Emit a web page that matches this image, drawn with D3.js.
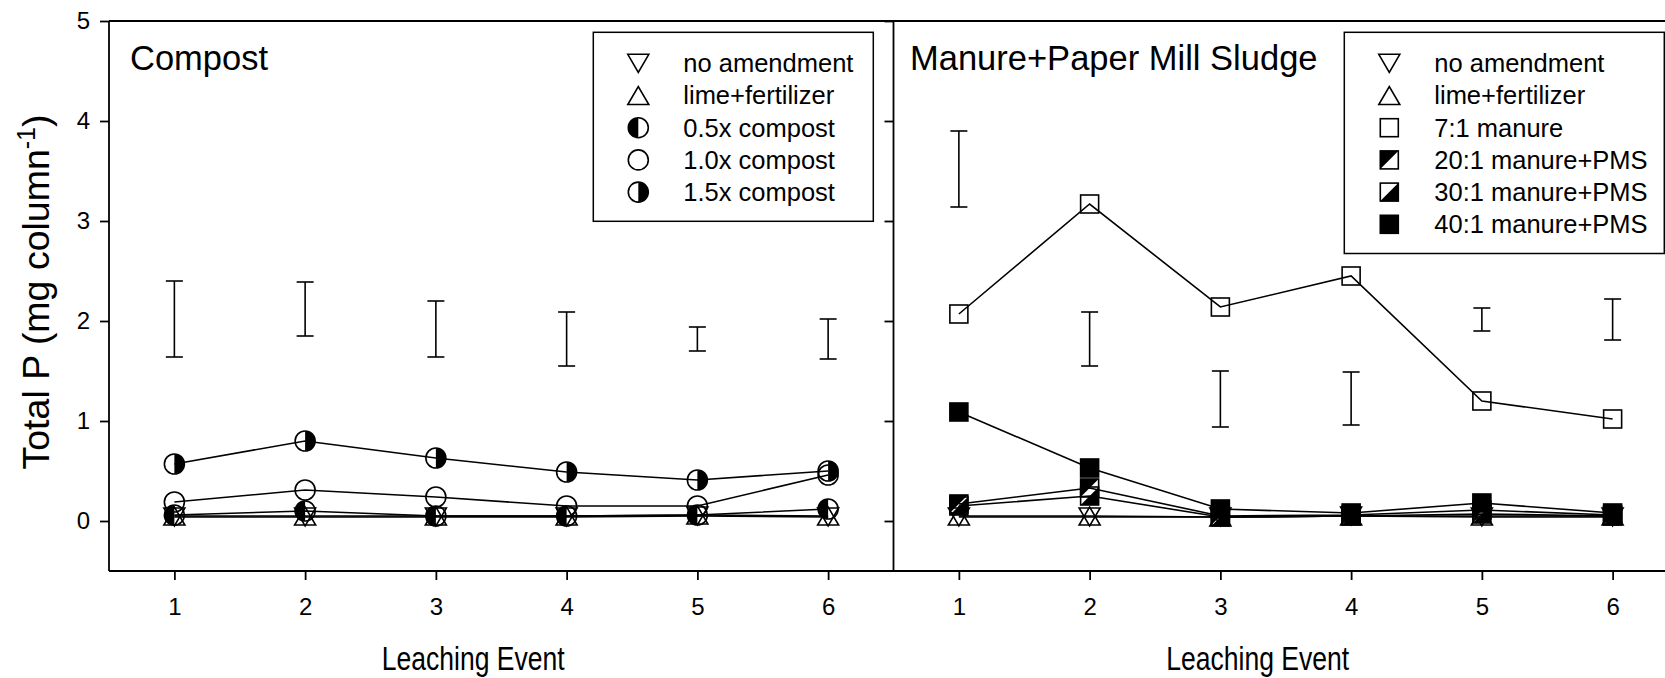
<!DOCTYPE html>
<html><head><meta charset="utf-8">
<script src="https://cdn.jsdelivr.net/npm/d3@7"></script>
<style>
body{margin:0;background:#fff}
text{font-family:"Liberation Sans",Arial,Helvetica,sans-serif;fill:#000}
</style>
</head><body><svg id="c" width="1665" height="678"></svg>
<script>
// ---------- data ----------
const events = [1, 2, 3, 4, 5, 6];
const yTicks = [0, 1, 2, 3, 4, 5];

// Compost panel
const compostTitle = "Compost";
const cNoAmend   = [0.04, 0.04, 0.04, 0.04, 0.05, 0.04];
const cLimeFert  = [0.05, 0.05, 0.05, 0.05, 0.06, 0.05];
const cHalf      = [0.06, 0.10, 0.05, 0.05, 0.06, 0.12];
const cOne       = [0.19, 0.31, 0.24, 0.15, 0.15, 0.46];
const cOneHalf   = [0.57, 0.80, 0.63, 0.49, 0.41, 0.50];
const cBarHigh   = [2.40, 2.39, 2.20, 2.09, 1.94, 2.02];
const cBarLow    = [1.64, 1.85, 1.64, 1.55, 1.70, 1.62];

// Manure + PMS panel
const manureTitle = "Manure+Paper Mill Sludge";
const mNoAmend   = [0.04, 0.04, 0.04, 0.05, 0.04, 0.04];
const mLimeFert  = [0.05, 0.05, 0.04, 0.05, 0.05, 0.05];
const m7to1      = [2.07, 3.17, 2.14, 2.45, 1.20, 1.02];
const m20to1     = [0.17, 0.33, 0.05, 0.06, 0.11, 0.06];
const m30to1     = [0.15, 0.25, 0.04, 0.05, 0.07, 0.05];
const m40to1     = [1.09, 0.53, 0.12, 0.08, 0.18, 0.08];
const mBarHigh   = [3.90, 2.09, 1.50, 1.49, 2.13, 2.22];
const mBarLow    = [3.14, 1.55, 0.94, 0.96, 1.90, 1.81];

const compostSeries = [
  {name: "no amendment",    shape: "down",  values: cNoAmend},
  {name: "lime+fertilizer", shape: "up",    values: cLimeFert},
  {name: "0.5x compost",    shape: "halfL", values: cHalf},
  {name: "1.0x compost",    shape: "circle",values: cOne},
  {name: "1.5x compost",    shape: "halfR", values: cOneHalf}
];
const manureSeries = [
  {name: "no amendment",     shape: "down",   values: mNoAmend},
  {name: "lime+fertilizer",  shape: "up",     values: mLimeFert},
  {name: "7:1 manure",       shape: "square", values: m7to1},
  {name: "20:1 manure+PMS",  shape: "sqTL",   values: m20to1},
  {name: "30:1 manure+PMS",  shape: "sqBR",   values: m30to1},
  {name: "40:1 manure+PMS",  shape: "sqFill", values: m40to1}
];

const xLabel = "Leaching Event";

// ---------- layout ----------
const svg = d3.select("#c");
const yTop = 21, yBot = 571;
const y  = d3.scaleLinear().domain([-0.5, 5]).range([yBot, yTop]);
const xL = d3.scaleLinear().domain([0.5, 6.5]).range([109, 893.5]);
const xR = d3.scaleLinear().domain([0.5, 6.5]).range([893.5, 1678]);
const SW = 1.6;

// ---------- markers (open parts are unfilled) ----------
function marker(g, shape, cx, cy) {
  const r = 10, s = 9, tw = 10.5, th = 9;
  const st = {stroke: "#000", "stroke-width": SW};
  const apply = (sel, o) => { for (const k in o) sel.attr(k, o[k]); return sel; };
  if (shape === "circle" || shape === "halfL" || shape === "halfR") {
    if (shape !== "circle") {
      const sweep = shape === "halfL" ? 0 : 1;
      g.append("path")
        .attr("d", `M${cx},${cy - r} A${r},${r} 0 0 ${sweep} ${cx},${cy + r} Z`)
        .attr("fill", "#000");
    }
    apply(g.append("circle").attr("cx", cx).attr("cy", cy).attr("r", r).attr("fill", "none"), st);
  } else if (shape === "down") {
    apply(g.append("path").attr("d", `M${cx - tw},${cy - th} L${cx + tw},${cy - th} L${cx},${cy + th} Z`).attr("fill", "none"), st);
  } else if (shape === "up") {
    apply(g.append("path").attr("d", `M${cx - tw},${cy + th} L${cx + tw},${cy + th} L${cx},${cy - th} Z`).attr("fill", "none"), st);
  } else {
    if (shape === "sqTL") {
      g.append("path").attr("d", `M${cx - s},${cy - s} L${cx + s},${cy - s} L${cx - s},${cy + s} Z`).attr("fill", "#000");
    } else if (shape === "sqBR") {
      g.append("path").attr("d", `M${cx + s},${cy - s} L${cx + s},${cy + s} L${cx - s},${cy + s} Z`).attr("fill", "#000");
    }
    apply(g.append("rect").attr("x", cx - s).attr("y", cy - s).attr("width", 2 * s).attr("height", 2 * s)
      .attr("fill", shape === "sqFill" ? "#000" : "none"), st);
  }
}

// ---------- panel drawing ----------
function panel(x, series, barHigh, barLow) {
  const g = svg.append("g");
  events.forEach((e, i) => {
    const px = x(e);
    g.append("line").attr("x1", px).attr("x2", px).attr("y1", y(barHigh[i])).attr("y2", y(barLow[i]))
      .attr("stroke", "#000").attr("stroke-width", SW);
    [barHigh[i], barLow[i]].forEach(v => {
      g.append("line").attr("x1", px - 8.5).attr("x2", px + 8.5).attr("y1", y(v)).attr("y2", y(v))
        .attr("stroke", "#000").attr("stroke-width", SW);
    });
  });
  const line = d3.line().x((d, i) => x(events[i])).y(d => y(d));
  series.forEach(s => {
    g.append("path").attr("d", line(s.values)).attr("fill", "none").attr("stroke", "#000").attr("stroke-width", SW);
  });
  series.forEach(s => {
    s.values.forEach((v, i) => marker(g, s.shape, x(events[i]), y(v)));
  });
}

panel(xL, compostSeries, cBarHigh, cBarLow);
panel(xR, manureSeries, mBarHigh, mBarLow);

// ---------- frame ----------
const frame = svg.append("g").attr("stroke", "#000").attr("stroke-width", 1.8);
frame.append("line").attr("x1", xL.range()[0]).attr("x2", 1665).attr("y1", yTop).attr("y2", yTop);
frame.append("line").attr("x1", xL.range()[0]).attr("x2", 1665).attr("y1", yBot).attr("y2", yBot);
frame.append("line").attr("x1", xL.range()[0]).attr("x2", xL.range()[0]).attr("y1", yTop).attr("y2", yBot);
frame.append("line").attr("x1", xR.range()[0]).attr("x2", xR.range()[0]).attr("y1", yTop).attr("y2", yBot);

// ---------- axes ----------
function styleAxis(g, fs) {
  g.select(".domain").remove();
  g.selectAll(".tick line").attr("stroke", "#000").attr("stroke-width", 1.8);
  g.selectAll(".tick text").attr("font-size", fs).attr("fill", "#000")
    .style("font-family", '"Liberation Sans",Arial,sans-serif');
}
svg.append("g").attr("transform", `translate(${xL.range()[0]},0)`)
  .call(d3.axisLeft(y).tickValues(yTicks).tickSize(9).tickPadding(10).tickFormat(d3.format("d")))
  .call(g => styleAxis(g, 24));
svg.append("g").attr("transform", `translate(${xR.range()[0]},0)`)
  .call(d3.axisLeft(y).tickValues(yTicks).tickSize(9).tickFormat(""))
  .call(g => styleAxis(g, 24));
[xL, xR].forEach(x => {
  svg.append("g").attr("transform", `translate(0,${yBot})`)
    .call(d3.axisBottom(x).tickValues(events).tickSize(9).tickPadding(18).tickFormat(d3.format("d")))
    .call(g => styleAxis(g, 24));
});

// ---------- titles ----------
svg.append("text").attr("x", 130).attr("y", 70).attr("font-size", 34.5).text(compostTitle);
svg.append("text").attr("x", 910).attr("y", 70).attr("font-size", 34.5).text(manureTitle);
[xL, xR].forEach(x => {
  const cx = (x.range()[0] + x.range()[1]) / 2 - 28;
  svg.append("text").attr("transform", `translate(${cx},670) scale(0.78,1)`)
    .attr("text-anchor", "middle").attr("font-size", 34).text(xLabel);
});
const yl = svg.append("text").attr("transform", "translate(49,292) rotate(-90)")
  .attr("text-anchor", "middle").attr("font-size", 37.5);
yl.append("tspan").text("Total P (mg column");
yl.append("tspan").attr("dy", -14).attr("font-size", 25).text("-1");
yl.append("tspan").attr("dy", 14).text(")");

// ---------- legends ----------
function legend(x0, w, series) {
  const rowH = 32.2, y0 = 63.3;
  const h = 30 + series.length * rowH - 2;
  svg.append("rect").attr("x", x0).attr("y", 32.3).attr("width", w).attr("height", h)
    .attr("fill", "#fff").attr("stroke", "#000").attr("stroke-width", 1.5);
  series.forEach((s, i) => {
    const cy = y0 + i * rowH;
    marker(svg.append("g"), s.shape, x0 + 45, cy);
    svg.append("text").attr("x", x0 + 90).attr("y", cy).attr("dy", "0.35em")
      .attr("font-size", 25.5).text(s.name);
  });
}
legend(593.3, 280, compostSeries);
legend(1344.3, 320, manureSeries);
</script>
</body></html>
